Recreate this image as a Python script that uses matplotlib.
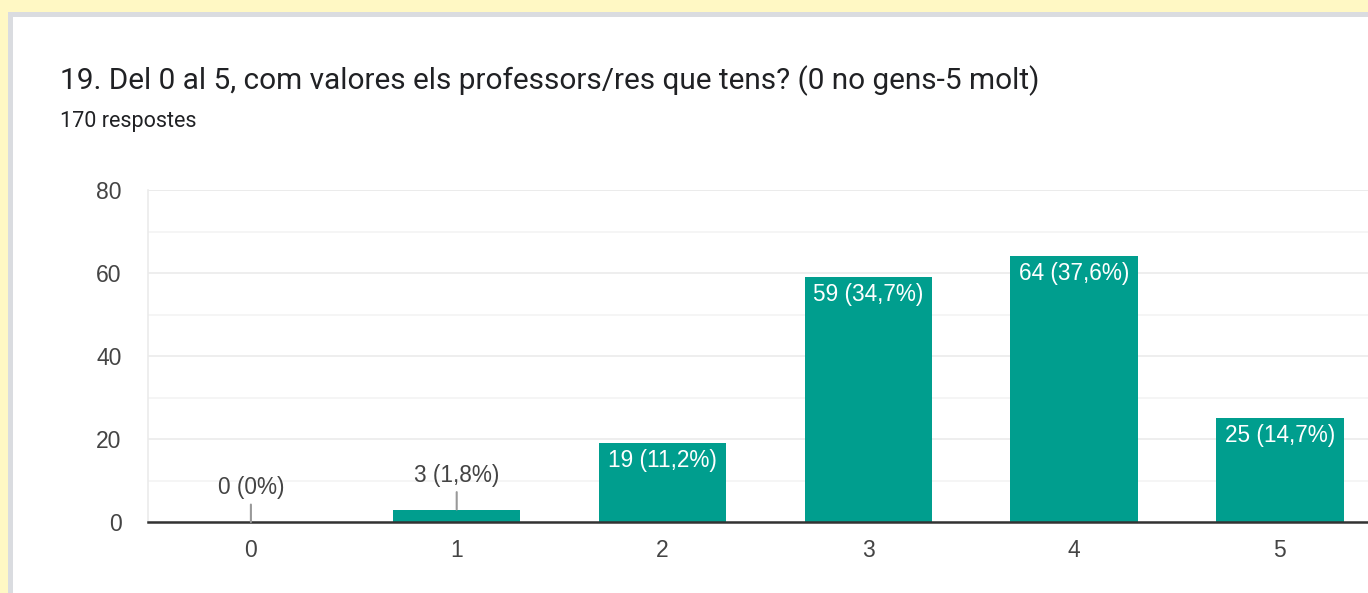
import matplotlib.pyplot as plt
from matplotlib.patches import Rectangle

# survey data
categories = ['0', '1', '2', '3', '4', '5']
counts = [0, 3, 19, 59, 64, 25]
percents = ['0%', '1,8%', '11,2%', '34,7%', '37,6%', '14,7%']

title = '19. Del 0 al 5, com valores els professors/res que tens? (0 no gens-5 molt)'
subtitle = '170 respostes'

W, H = 1368, 593
fig = plt.figure(figsize=(W / 100, H / 100), dpi=100)
fig.patch.set_facecolor('#fff8c4')

# card with grey border
fig.patches.append(Rectangle((8 / W, 0), 1.2, (H - 12) / H, transform=fig.transFigure,
                             facecolor='#dadce0', edgecolor='none', zorder=-10))
fig.patches.append(Rectangle((13 / W, 0), 1.2, (H - 17) / H, transform=fig.transFigure,
                             facecolor='white', edgecolor='none', zorder=-9))

fig.text(60 / W, 1 - 89 / H, title, fontsize=21.4, family='Roboto', color='#202124',
         va='baseline', ha='left')
fig.text(60 / W, 1 - 127 / H, subtitle, fontsize=15.5, family='Roboto', color='#202124',
         va='baseline', ha='left')

# axes: spacing 205.8 px per category, extends past right edge
step = 205.8
left = 148
ax = fig.add_axes([left / W, (H - 522) / H, 6 * step / W, 332 / H])
ax.set_facecolor('none')
ax.set_zorder(1)

x = list(range(len(categories)))
ax.bar(x, counts, width=0.62, color='#009e8e', zorder=3)

ax.set_xlim(-0.5, 5.5)
ax.set_ylim(0, 80)
ax.set_yticks([0, 20, 40, 60, 80])
ax.set_yticks([10, 30, 50, 70], minor=True)
ax.set_xticks(x)
ax.set_xticklabels(categories)
ax.grid(axis='y', which='major', color='#ebebeb', lw=1.2, zorder=0)
ax.grid(axis='y', which='minor', color='#f4f4f4', lw=1.2, zorder=0)
ax.axhline(80, color='#ebebeb', lw=1.2, zorder=0)

for s in ['top', 'right']:
    ax.spines[s].set_visible(False)
ax.spines['left'].set_color('#ebebeb')
ax.spines['left'].set_linewidth(1.2)
ax.spines['bottom'].set_color('#333333')
ax.spines['bottom'].set_linewidth(1.8)
ax.spines['bottom'].set_zorder(4)

ax.tick_params(axis='both', which='both', length=0, labelsize=16.5, labelcolor='#444444')
ax.tick_params(axis='x', pad=12)
ax.tick_params(axis='y', pad=19)
for lab in ax.get_xticklabels() + ax.get_yticklabels():
    lab.set_family('Liberation Sans')

for i, (c, p) in enumerate(zip(counts, percents)):
    txt = f'{c} ({p})'
    if c >= 10:
        ax.annotate(txt, (i, c), xytext=(0, -6), textcoords='offset pixels',
                    ha='center', va='top', color='white', fontsize=16.3,
                    family='Liberation Sans', zorder=5)
    else:
        ax.annotate(txt, (i, c), xytext=(0, 23), textcoords='offset pixels',
                    ha='center', va='bottom', color='#444444', fontsize=16.3,
                    family='Liberation Sans', zorder=5,
                    arrowprops=dict(arrowstyle='-', color='#999999', lw=1.5,
                                    shrinkA=2, shrinkB=0))

fig.savefig('out.png', dpi=100)
